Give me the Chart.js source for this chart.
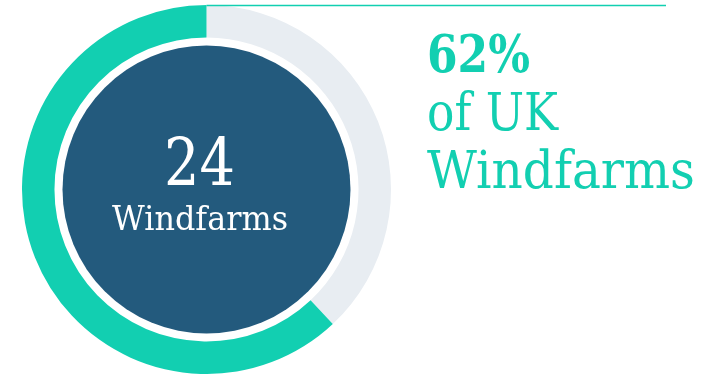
<!DOCTYPE html>
<html>
<head>
<meta charset="utf-8">
<script src="https://cdn.jsdelivr.net/npm/chart.js@4"></script>
<style>
  html, body { margin: 0; padding: 0; background: #fff; }
  #wrap { width: 720px; height: 374px; position: relative; }
</style>
</head>
<body>
<div id="wrap"><canvas id="windChart"></canvas></div>
<script>
// share of UK windfarms: rest first (clockwise from top), then ours
const labels = ['Other UK windfarms', 'Our windfarms'];
const shares = [38, 62];
const colors = ['#E8EDF2', '#12CFB1'];
const windfarmCount = 24;
const centerLabel = 'Windfarms';
const headline = ['62%', 'of UK', 'Windfarms'];

const teal = '#12CFB1';
const navy = '#235A7D';
const slab = '"DejaVu Serif", "Liberation Serif", serif';

// draw text squeezed horizontally to a given width
function fitText(ctx, text, x, y, width) {
  const w = ctx.measureText(text).width;
  const sx = width / w;
  ctx.save();
  ctx.translate(x, y);
  ctx.scale(sx, 1);
  ctx.fillText(text, 0, 0);
  ctx.restore();
}

const extras = {
  id: 'extras',
  afterDatasetsDraw(chart) {
    const ctx = chart.ctx;
    const arc = chart.getDatasetMeta(0).data[0];
    const cx = arc.x, cy = arc.y;

    // thin rule along the top
    ctx.save();
    ctx.strokeStyle = teal;
    ctx.lineWidth = 1.5;
    ctx.beginPath();
    ctx.moveTo(cx, 5.5);
    ctx.lineTo(666, 5.5);
    ctx.stroke();

    // dark disc inside the ring
    ctx.fillStyle = navy;
    ctx.beginPath();
    ctx.arc(cx, cy, 144, 0, Math.PI * 2);
    ctx.fill();

    // count and label in the middle
    ctx.fillStyle = '#fff';
    ctx.textBaseline = 'alphabetic';
    ctx.textAlign = 'left';
    ctx.font = '66px ' + slab;
    fitText(ctx, String(windfarmCount), 164, 185, 71);
    ctx.font = '33px ' + slab;
    fitText(ctx, centerLabel, 112, 230, 176);

    // headline on the right
    ctx.fillStyle = teal;
    ctx.font = 'bold 53px ' + slab;
    fitText(ctx, headline[0], 427, 72, 103);
    ctx.font = '52px ' + slab;
    fitText(ctx, headline[1], 427, 130, 131);
    fitText(ctx, headline[2], 427, 188, 268);
    ctx.restore();
  }
};

new Chart(document.getElementById('windChart'), {
  type: 'doughnut',
  data: {
    labels: labels,
    datasets: [{
      data: shares,
      backgroundColor: colors,
      borderWidth: 0,
      hoverOffset: 0
    }]
  },
  options: {
    responsive: true,
    maintainAspectRatio: false,
    animation: false,
    cutout: '82.4%',
    rotation: 0,
    layout: { padding: { left: 22, top: 5, right: 329, bottom: 0 } },
    events: [],
    plugins: {
      legend: { display: false },
      tooltip: { enabled: false }
    }
  },
  plugins: [extras]
});
</script>
</body>
</html>
